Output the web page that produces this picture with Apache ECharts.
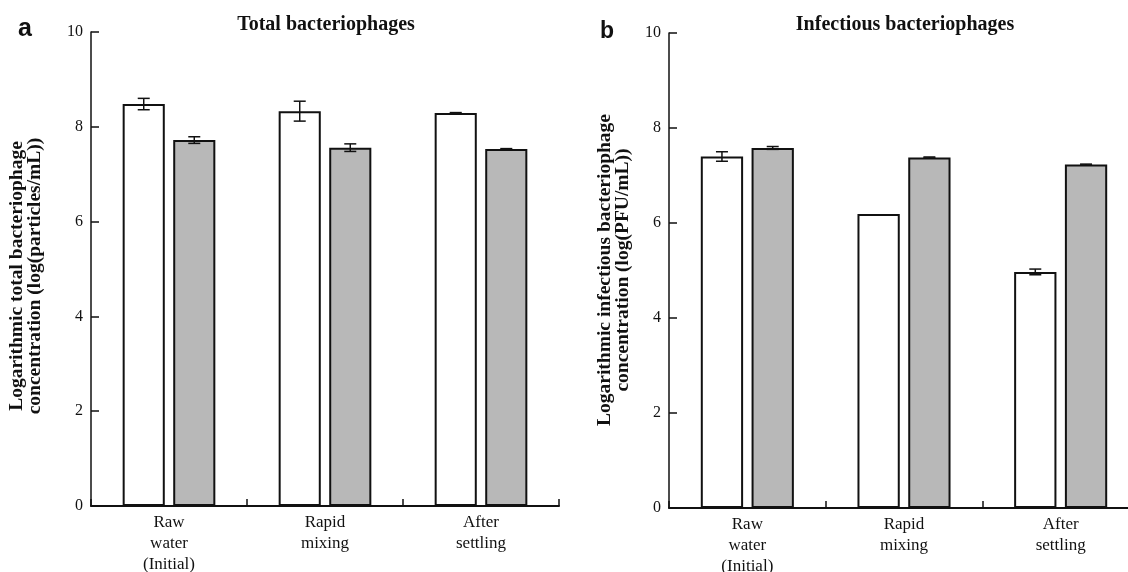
<!DOCTYPE html>
<html>
<head>
<meta charset="utf-8">
<script src="https://cdn.jsdelivr.net/npm/echarts@6/dist/echarts.min.js"></script>
<style>
  html, body { margin: 0; padding: 0; background: #fff; }
  #chart { width: 1128px; height: 572px; }
</style>
</head>
<body>
<div id="chart"></div>
<script>
// Treatment stages (x categories, shared by both panels)
const categories = ['Raw\nwater\n(Initial)', 'Rapid\nmixing', 'After\nsettling'];
const yTicks = [0, 2, 4, 6, 8, 10];

// Panel a: total bacteriophages, log(particles/mL)
const totalOpen = [8.48, 8.33, 8.29];
const totalOpenErr = [0.12, 0.21, 0.01];
const totalShaded = [7.72, 7.56, 7.53];
const totalShadedErr = [0.07, 0.08, 0.01];

// Panel b: infectious bacteriophages, log(PFU/mL)
const infOpen = [7.40, 6.19, 4.97];
const infOpenErr = [0.10, 0, 0.06];
const infShaded = [7.58, 7.38, 7.23];
const infShadedErr = [0.03, 0.01, 0.01];

const BAR_FRAC = 0.27;   // bar width as share of a category band
const GAP_FRAC = 0.20;   // gap between paired bars, share of bar width
const SERIF = '"Liberation Serif", "Times New Roman", serif';
const INK = '#111';
const SHADE = '#b8b8b8';

function errData(vals, errs) {
  return vals.map((v, i) => [i, v, errs[i]]);
}

function errorBars(side) {
  return function (params, api) {
    const idx = api.value(0);
    const v = api.value(1);
    const e = api.value(2);
    if (!e) return null;
    const band = api.size([1, 0])[0];
    const bw = band * BAR_FRAC;
    const gap = bw * GAP_FRAC;
    const cx = api.coord([idx, v])[0] + side * (bw + gap) / 2;
    const yTop = api.coord([idx, v + e])[1];
    const yBot = api.coord([idx, v - e])[1];
    const half = 6;
    const st = { stroke: INK, lineWidth: 1.5 };
    return {
      type: 'group',
      children: [
        { type: 'line', shape: { x1: cx, y1: yTop, x2: cx, y2: yBot }, style: st },
        { type: 'line', shape: { x1: cx - half, y1: yTop, x2: cx + half, y2: yTop }, style: st },
        { type: 'line', shape: { x1: cx - half, y1: yBot, x2: cx + half, y2: yBot }, style: st }
      ]
    };
  };
}

function xAxisFor(gridIndex) {
  return {
    type: 'category',
    gridIndex: gridIndex,
    data: categories,
    axisLine: { show: true, lineStyle: { color: INK, width: 2 } },
    axisTick: { show: true, inside: true, length: 7, lineStyle: { color: INK, width: 1.5 } },
    axisLabel: {
      color: INK, fontFamily: SERIF, fontSize: 17, lineHeight: 21, margin: 6,
      interval: 0, hideOverlap: false
    },
    splitLine: { show: false }
  };
}

function yAxisFor(gridIndex) {
  return {
    type: 'value',
    gridIndex: gridIndex,
    min: yTicks[0],
    max: yTicks[yTicks.length - 1],
    interval: yTicks[1] - yTicks[0],
    axisLine: { show: true, lineStyle: { color: INK, width: 1.5 } },
    axisTick: { show: true, inside: true, length: 8, lineStyle: { color: INK, width: 1.5 } },
    axisLabel: { color: INK, fontFamily: SERIF, fontSize: 16, margin: 8 },
    splitLine: { show: false }
  };
}

function barSeries(axisIdx, data, fill) {
  return {
    type: 'bar',
    xAxisIndex: axisIdx,
    yAxisIndex: axisIdx,
    data: data,
    barWidth: (BAR_FRAC * 100) + '%',
    barGap: (GAP_FRAC * 100) + '%',
    itemStyle: { color: fill, borderColor: INK, borderWidth: 2 },
    emphasis: { disabled: true },
    silent: true
  };
}

function errSeries(axisIdx, vals, errs, side) {
  return {
    type: 'custom',
    xAxisIndex: axisIdx,
    yAxisIndex: axisIdx,
    data: errData(vals, errs),
    renderItem: errorBars(side),
    z: 5,
    silent: true
  };
}

function label(text, x, y, font, rotate) {
  return {
    type: 'text',
    x: x, y: y,
    rotation: rotate ? Math.PI / 2 : 0,
    style: {
      text: text, font: font, fill: INK,
      align: 'center', verticalAlign: 'middle',
      textAlign: 'center', textVerticalAlign: 'middle',
      lineHeight: 18
    },
    silent: true
  };
}

const chart = echarts.init(document.getElementById('chart'), null, { renderer: 'canvas' });
chart.setOption({
  backgroundColor: '#fff',
  animation: false,
  grid: [
    { left: 91, top: 32, width: 468, height: 474, containLabel: false, outerBoundsMode: 'none' },
    { left: 669, top: 33, width: 470, height: 475, containLabel: false, outerBoundsMode: 'none' }
  ],
  xAxis: [xAxisFor(0), xAxisFor(1)],
  yAxis: [yAxisFor(0), yAxisFor(1)],
  series: [
    barSeries(0, totalOpen, '#fff'),
    barSeries(0, totalShaded, SHADE),
    errSeries(0, totalOpen, totalOpenErr, -1),
    errSeries(0, totalShaded, totalShadedErr, 1),
    barSeries(1, infOpen, '#fff'),
    barSeries(1, infShaded, SHADE),
    errSeries(1, infOpen, infOpenErr, -1),
    errSeries(1, infShaded, infShadedErr, 1)
  ],
  graphic: [
    label('a', 25, 29, 'bold 25px "Liberation Sans", Arial, sans-serif', false),
    label('b', 607, 32, 'bold 23px "Liberation Sans", Arial, sans-serif', false),
    label('Total bacteriophages', 326, 25, 'bold 20px ' + SERIF, false),
    label('Infectious bacteriophages', 905, 25, 'bold 20px ' + SERIF, false),
    label('Logarithmic total bacteriophage\nconcentration (log(particles/mL))', 26, 276, 'bold 19.5px ' + SERIF, true),
    label('Logarithmic infectious bacteriophage\nconcentration (log(PFU/mL))', 614, 270, 'bold 19.5px ' + SERIF, true)
  ]
});
</script>
</body>
</html>
